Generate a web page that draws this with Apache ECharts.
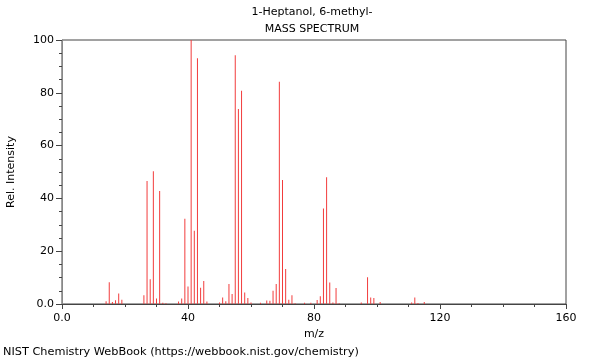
<!DOCTYPE html>
<html>
<head>
<meta charset="utf-8">
<script src="https://cdn.jsdelivr.net/npm/echarts@6/dist/echarts.min.js"></script>
<style>html,body{margin:0;padding:0;background:#fff;}#c{width:600px;height:360px;}</style>
</head>
<body>
<div id="c"></div>
<script>
const titleLines = ["1-Heptanol, 6-methyl-", "MASS SPECTRUM"];
const footer = "NIST Chemistry WebBook (https://webbook.nist.gov/chemistry)";
const mz =        [14, 15, 16, 17, 18, 19, 26, 27, 28, 29, 30, 31, 32, 33, 37, 38, 39, 40, 41, 42, 43, 44, 45, 46, 50, 51, 52, 53, 54, 55, 56, 57, 58, 59, 60, 63, 65, 66, 67, 68, 69, 70, 71, 72, 73, 74, 77, 79, 81, 82, 83, 84, 85, 86, 87, 88, 95, 97, 98, 99, 101, 111, 112, 113, 115];
const intensity = [1.0, 8.2, 0.8, 1.4, 4.0, 1.6, 3.3, 46.6, 9.4, 50.3, 2.1, 42.8, 0.5, 0.3, 0.9, 2.1, 32.3, 6.6, 100, 27.7, 93.1, 6.2, 8.7, 0.9, 0.6, 2.5, 1.0, 7.6, 3.8, 94.2, 73.9, 80.8, 4.4, 2.3, 0.6, 0.5, 1.3, 1.2, 5.0, 7.6, 84.2, 47.0, 13.3, 1.6, 3.3, 0.3, 0.5, 0.5, 1.5, 2.9, 36.2, 48.0, 8.1, 0.6, 6.1, 0.3, 0.6, 10.1, 2.5, 2.3, 0.8, 0.6, 2.5, 0.4, 0.8];
const xTickLabels = {0: "0.0", 40: "40", 80: "80", 120: "120", 160: "160"};
const yTickLabels = {0: "0.0", 20: "20", 40: "40", 60: "60", 80: "80", 100: "100"};

const chart = echarts.init(document.getElementById('c'), null, {renderer: 'canvas'});
const font = 'DejaVu Sans';
const ts = {fontFamily: font, fontSize: 11, fontWeight: 'normal', color: '#000'};
chart.setOption({
  animation: false,
  textStyle: {fontFamily: font},
  title: [
    {text: titleLines[0], left: 312, top: 7, padding: 0, textAlign: 'center', textStyle: ts},
    {text: titleLines[1], left: 312, top: 24, padding: 0, textAlign: 'center', textStyle: ts},
    {text: footer, left: 3, top: 347, padding: 0, textStyle: Object.assign({}, ts, {fontSize: 11.3})}
  ],
  grid: {left: 62, right: 34, top: 40, bottom: 56, containLabel: false, outerBoundsMode: 'none', show: true, borderColor: '#444', borderWidth: 1, backgroundColor: 'transparent'},
  xAxis: {
    type: 'value', min: 0, max: 160, interval: 40,
    name: 'm/z', nameLocation: 'middle', nameGap: 25,
    nameTextStyle: ts,
    axisLine: {show: true, lineStyle: {color: '#444'}},
    axisTick: {show: true, length: 5, lineStyle: {color: '#444'}},
    minorTick: {show: true, splitNumber: 4, length: 3, lineStyle: {color: '#444'}},
    axisLabel: {fontFamily: font, fontSize: 11, color: '#000', margin: 9, formatter: v => xTickLabels[v] ?? ''},
    splitLine: {show: false}
  },
  yAxis: {
    type: 'value', min: 0, max: 100, interval: 20,
    name: 'Rel. Intensity', nameLocation: 'middle', nameGap: 45,
    nameTextStyle: ts,
    axisLine: {show: true, lineStyle: {color: '#888'}},
    axisTick: {show: true, length: 6, lineStyle: {color: '#444'}},
    minorTick: {show: true, splitNumber: 4, length: 3, lineStyle: {color: '#444'}},
    axisLabel: {fontFamily: font, fontSize: 11, color: '#000', margin: 8, formatter: v => yTickLabels[v] ?? ''},
    splitLine: {show: false}
  },
  series: [{
    type: 'bar',
    barWidth: 1,
    itemStyle: {color: '#f23c3c'},
    data: mz.map((m, i) => [m, intensity[i]])
  }]
});
</script>
</body>
</html>
